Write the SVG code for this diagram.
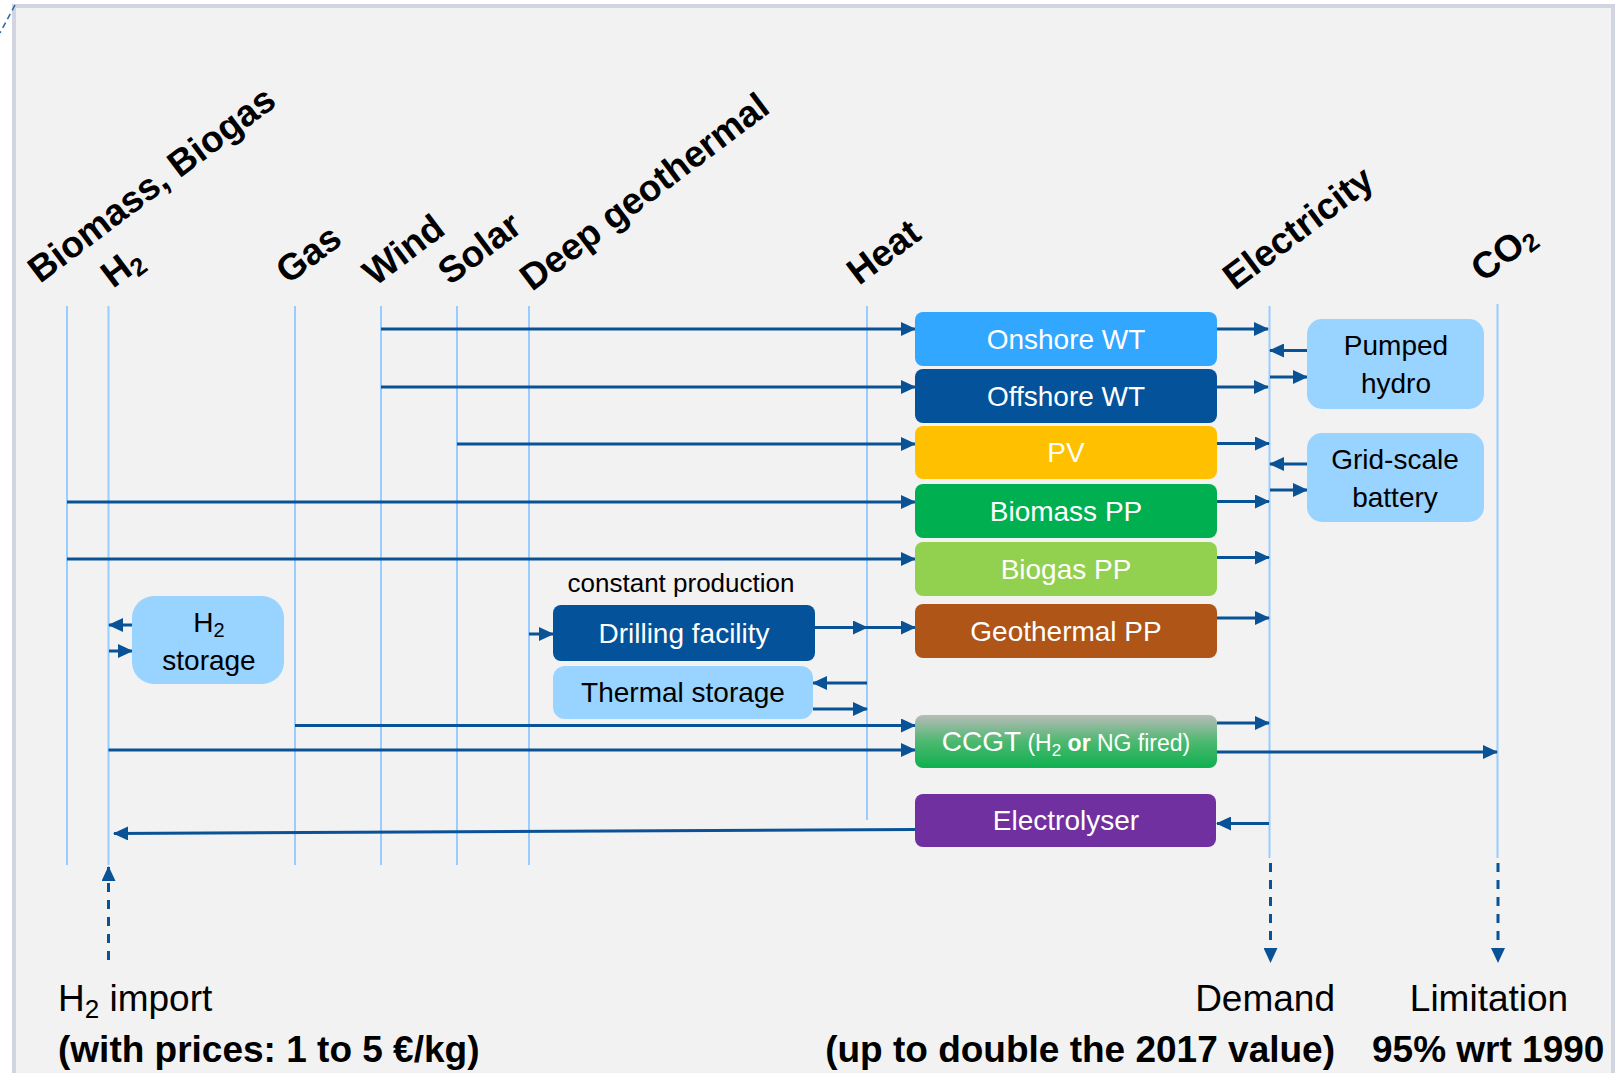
<svg xmlns="http://www.w3.org/2000/svg" width="1618" height="1073" viewBox="0 0 1618 1073">
<defs>
<style>
.t{font-family:"Liberation Sans",Arial,sans-serif}
.lab{font-family:"Liberation Sans",Arial,sans-serif;font-weight:bold;font-size:37px;fill:#000}
.nw{font-family:"Liberation Sans",Arial,sans-serif;font-size:28px;fill:#fff;text-anchor:middle}
.nb{font-family:"Liberation Sans",Arial,sans-serif;font-size:28px;fill:#000;text-anchor:middle}
.axis{stroke:#99CCFF;stroke-width:2;fill:none}
.c{stroke:#0A5296;stroke-width:3;fill:none;marker-end:url(#ah)}
.d{stroke:#0A5296;stroke-width:3;fill:none;stroke-dasharray:9 8;marker-end:url(#ah)}
.bot{font-family:"Liberation Sans",Arial,sans-serif;font-size:37px;fill:#000}
.botb{font-family:"Liberation Sans",Arial,sans-serif;font-size:37px;font-weight:bold;fill:#000}
</style>
<marker id="ah" viewBox="0 0 15 14" refX="14" refY="7" markerWidth="15" markerHeight="14" markerUnits="userSpaceOnUse" orient="auto">
<path d="M0,0 L15,7 L0,14 Z" fill="#0A5296"/>
</marker>
<linearGradient id="ccgt" x1="0" y1="0" x2="0" y2="1">
<stop offset="0" stop-color="#B9BBB9"/>
<stop offset="0.5" stop-color="#4DB870"/>
<stop offset="1" stop-color="#0EB04F"/>
</linearGradient>
</defs>
<rect x="0" y="0" width="1618" height="1073" fill="#FFFFFF"/>
<rect x="14" y="6" width="1599" height="1090" fill="#F2F2F2" stroke="#D0D5E0" stroke-width="4"/>
<path d="M15,5 L0,33" stroke="#2A64A8" stroke-width="1.5" stroke-dasharray="6 4" fill="none"/>

<g id="axes">
<path class="axis" d="M67,306 V865 M108.5,306 V865 M295,306 V865 M381,306 V865 M457,306 V865 M529,306 V865 M867,306 V820 M1269.5,306 V858 M1497.5,304 V858"/>
</g>

<g id="labels">
<text class="lab" transform="translate(40,284) rotate(-37)">Biomass, Biogas</text>
<text class="lab" transform="translate(113,289) rotate(-37)">H<tspan font-size="25" dy="6">2</tspan></text>
<text class="lab" transform="translate(288,285) rotate(-37)">Gas</text>
<text class="lab" transform="translate(375,287) rotate(-37)">Wind</text>
<text class="lab" transform="translate(450,286) rotate(-37)">Solar</text>
<text class="lab" transform="translate(532,292) rotate(-37)">Deep geothermal</text>
<text class="lab" transform="translate(859,286) rotate(-37)">Heat</text>
<text class="lab" transform="translate(1235,291) rotate(-37)">Electricity</text>
<text class="lab" transform="translate(1483,283) rotate(-37)">CO<tspan font-size="25" dy="5">2</tspan></text>
</g>

<g id="connectors">
<path class="c" d="M381,329 H915"/>
<path class="c" d="M381,387 H915"/>
<path class="c" d="M457,444 H915"/>
<path class="c" d="M67,502 H915"/>
<path class="c" d="M67,559 H915"/>
<path class="c" d="M295,725.5 H915"/>
<path class="c" d="M108.5,750 H915"/>
<path class="c" d="M815,627.5 H867"/>
<path class="c" d="M867,627.5 H915"/>
<path class="c" d="M529,634 H553"/>
<path class="c" d="M867,683 H813"/>
<path class="c" d="M813,709 H867"/>
<path class="c" d="M915,829.5 L114,833.5"/>
<path class="c" d="M132,625 H109"/>
<path class="c" d="M109,651 H132"/>
<path class="c" d="M1217,329 H1268"/>
<path class="c" d="M1217,387 H1268"/>
<path class="c" d="M1217,443.5 H1269"/>
<path class="c" d="M1217,501.5 H1269"/>
<path class="c" d="M1217,557.5 H1269"/>
<path class="c" d="M1217,618 H1269"/>
<path class="c" d="M1217,723 H1269"/>
<path class="c" d="M1307,350.5 H1270"/>
<path class="c" d="M1270,377 H1307"/>
<path class="c" d="M1307,464 H1270"/>
<path class="c" d="M1270,490 H1307"/>
<path class="c" d="M1269,823.5 H1217"/>
<path class="c" d="M1217,752 H1497"/>
<path class="d" d="M108.5,960 V867"/>
<path class="d" d="M1270.5,863 V962"/>
<path class="d" d="M1498,863 V962"/>
</g>

<g id="onshore-wt"><rect x="915" y="312" width="302" height="54" rx="8" fill="#31A7FF"/><text class="nw" x="1066" y="349">Onshore WT</text></g>
<g id="offshore-wt"><rect x="915" y="369" width="302" height="54" rx="8" fill="#03529A"/><text class="nw" x="1066" y="406">Offshore WT</text></g>
<g id="pv"><rect x="915" y="426" width="302" height="53" rx="8" fill="#FFC000"/><text class="nw" x="1066" y="462">PV</text></g>
<g id="biomass-pp"><rect x="915" y="484" width="302" height="54" rx="8" fill="#00B050"/><text class="nw" x="1066" y="521">Biomass PP</text></g>
<g id="biogas-pp"><rect x="915" y="542" width="302" height="54" rx="8" fill="#92D050"/><text class="nw" x="1066" y="579">Biogas PP</text></g>
<g id="geothermal-pp"><rect x="915" y="604" width="302" height="54" rx="8" fill="#AE5517"/><text class="nw" x="1066" y="641">Geothermal PP</text></g>
<g id="ccgt"><rect x="915" y="715" width="302" height="53" rx="8" fill="url(#ccgt)"/><text class="nw" x="1066" y="751">CCGT<tspan font-size="23"> (H<tspan dy="5" font-size="17">2</tspan><tspan dy="-5" font-weight="bold"> or</tspan> NG fired)</tspan></text></g>
<g id="electrolyser"><rect x="915" y="794" width="301" height="53" rx="8" fill="#7030A0"/><text class="nw" x="1066" y="830">Electrolyser</text></g>
<g id="pumped-hydro"><rect x="1307" y="319" width="177" height="90" rx="15" fill="#99D3FF"/><text class="nb" x="1396" y="355">Pumped</text><text class="nb" x="1396" y="393">hydro</text></g>
<g id="grid-battery"><rect x="1307" y="433" width="177" height="89" rx="15" fill="#99D3FF"/><text class="nb" x="1395" y="469">Grid-scale</text><text class="nb" x="1395" y="507">battery</text></g>
<g id="h2-storage"><rect x="132" y="596" width="152" height="88" rx="22" fill="#99D3FF"/><text class="nb" x="209" y="632">H<tspan font-size="20" dy="5">2</tspan></text><text class="nb" x="209" y="670">storage</text></g>
<g id="drilling-facility"><rect x="553" y="605" width="262" height="56" rx="8" fill="#03529A"/><text class="nw" x="684" y="643">Drilling facility</text></g>
<g id="thermal-storage"><rect x="553" y="666" width="260" height="53" rx="12" fill="#99D3FF"/><text class="nb" x="683" y="702">Thermal storage</text></g>
<text class="t" x="681" y="592" font-size="26" text-anchor="middle" fill="#000">constant production</text>

<g id="bottom-texts">
<text class="bot" x="58" y="1011">H<tspan font-size="26" dy="7">2</tspan><tspan dy="-7"> import</tspan></text>
<text class="botb" x="58" y="1062">(with prices: 1 to 5 €/kg)</text>
<text class="bot" x="1335" y="1011" text-anchor="end">Demand</text>
<text class="botb" x="1335" y="1062" text-anchor="end">(up to double the 2017 value)</text>
<text class="bot" x="1489" y="1011" text-anchor="middle">Limitation</text>
<text class="botb" x="1372" y="1062">95% wrt 1990</text>
</g>
</svg>
